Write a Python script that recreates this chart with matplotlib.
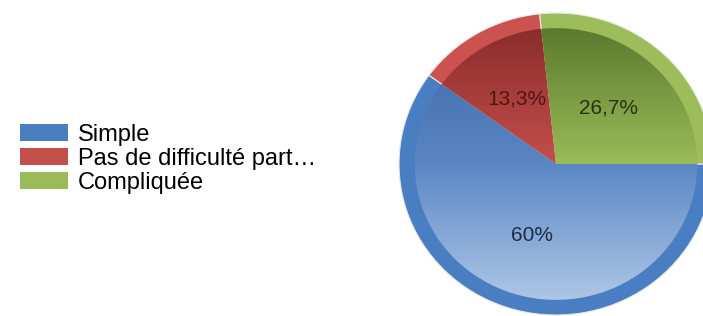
import matplotlib.pyplot as plt
import numpy as np
from matplotlib.colors import LinearSegmentedColormap
from matplotlib.patches import Patch

labels = ["Simple", "Pas de difficulté part…", "Compliquée"]
counts = [9, 2, 4]

ring_colors = ["#4a7ec2", "#cc524f", "#9dbd5a"]
legend_colors = ["#4a7ebf", "#c4504d", "#9bbb59"]
# gradient stops per wedge: top -> centre -> bottom
grad_colors = [
    ["#3c68a6", "#5a87c4", "#aec6e6"],
    ["#8a2d2c", "#c44f4c", "#c44f4c"],
    ["#5b7a2e", "#9bbc58", "#9bbc58"],
]
text_colors = ["#1d2c45", "#521515", "#243312"]


def fmt(p):
    s = f"{p:.1f}"
    if s.endswith(".0"):
        s = s[:-2]
    return s.replace(".", ",") + "%"


plt.rcParams["font.family"] = ["Liberation Sans", "DejaVu Sans"]

fig = plt.figure(figsize=(7.03, 3.16), dpi=100)
ax = fig.add_axes([0, 0, 1, 1])

# outer ring
wedges, texts, autotexts = ax.pie(counts, radius=1.0, startangle=0, counterclock=False,
                                  colors=ring_colors, autopct=fmt, pctdistance=0.5,
                                  wedgeprops=dict(edgecolor="#e8e8e8", linewidth=0.8),
                                  textprops=dict(fontsize=15))

# inner wedges with vertical gradient
inner, _ = ax.pie(counts, radius=0.9, startangle=0, counterclock=False,
                  colors=ring_colors, wedgeprops=dict(edgecolor="none"))
ramp = np.linspace(0, 1, 256).reshape(-1, 1)
for w, cols in zip(inner, grad_colors):
    w.set_facecolor("none")
    cmap = LinearSegmentedColormap.from_list("g", cols)
    im = ax.imshow(ramp, cmap=cmap, extent=(-0.9, 0.9, -0.9, 0.9),
                   origin="upper", aspect="auto", zorder=1.5)
    im.set_clip_path(w)

for t, c in zip(autotexts, text_colors):
    t.set_color(c)
    t.set_zorder(5)

# map pie to pixel layout (slightly stretched horizontally like the source)
cx, cy, rx, ry = 556, 164, 157, 151
ax.set_aspect("auto")
ax.set_xlim(-cx / rx, (703 - cx) / rx)
ax.set_ylim(-(316 - cy) / ry, cy / ry)
ax.axis("off")

handles = [Patch(facecolor=c, edgecolor="none") for c in legend_colors]
fig.legend(handles, labels, loc="center left", bbox_to_anchor=(0.015, 0.497),
           frameon=False, fontsize=17, handlelength=2.05, handleheight=0.72,
           handletextpad=0.4, labelspacing=0.08, borderaxespad=0)

fig.savefig("out.png", dpi=100)
